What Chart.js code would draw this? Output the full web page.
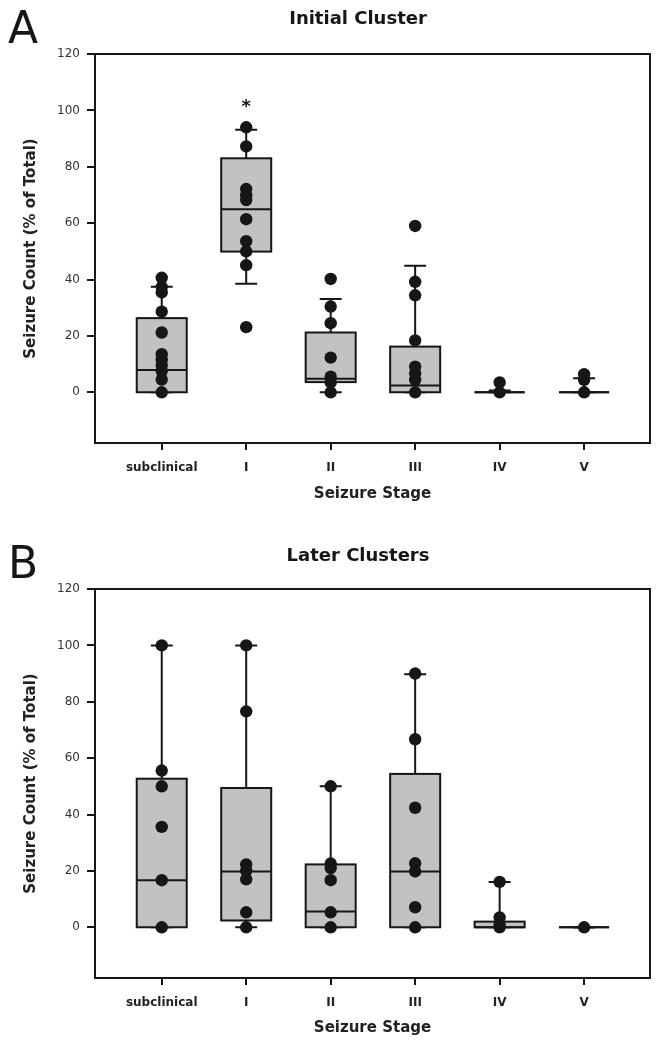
<!DOCTYPE html>
<html>
<head>
<meta charset="utf-8">
<script src="https://cdn.jsdelivr.net/npm/chart.js@4/dist/chart.umd.min.js"></script>
<style>
html, body { margin: 0; padding: 0; background: #fff; overflow: hidden; }
canvas { display: block; }
</style>
</head>
<body>
<canvas id="initial" width="661" height="535"></canvas>
<canvas id="later" width="661" height="515"></canvas>
<script>
const stages = ['subclinical', 'I', 'II', 'III', 'IV', 'V']
const yTicks = [0, 20, 40, 60, 80, 100, 120]

// panel A - initial cluster
const initialQ1 = [0, 49.9, 3.6, 0, 0, 0]
const initialMedian = [7.9, 64.9, 4.8, 2.4, 0, 0]
const initialQ3 = [26.3, 83.0, 21.2, 16.2, 0, 0]
const initialLow = [0, 38.5, 0, 0, 0, 0]
const initialHigh = [37.4, 93.1, 33.1, 44.9, 0.6, 5.0]
const initialPoints = [
	[40.6, 37.3, 35.4, 28.6, 21.2, 13.5, 11.5, 9.5, 7.5, 4.5, 0],
	[94.0, 87.2, 72.1, 69.9, 68.2, 61.4, 53.6, 50.0, 45.1, 23.1],
	[40.2, 30.4, 24.5, 12.3, 5.5, 3.5, 0],
	[59.0, 39.2, 34.4, 18.4, 9.1, 6.7, 4.4, 0],
	[3.5, 0],
	[6.4, 4.4, 0]
]
const initialStars = [{ stage: 1, value: 103 }]

// panel B - later clusters
const laterQ1 = [0, 2.4, 0, 0, 0, 0]
const laterMedian = [16.7, 19.8, 5.6, 19.8, 0, 0]
const laterQ3 = [52.7, 49.4, 22.3, 54.4, 2.0, 0]
const laterLow = [0, 0, 0, 0, 0, 0]
const laterHigh = [100, 100, 50, 89.8, 16.1, 0]
const laterPoints = [
	[100, 55.6, 50.0, 35.6, 16.7, 0],
	[100, 76.6, 22.3, 20.0, 17.0, 5.3, 0],
	[50, 22.6, 21.0, 16.7, 5.3, 0],
	[90, 66.7, 42.4, 22.7, 19.8, 7.1, 0],
	[16.1, 3.5, 1.0, 0],
	[0]
]

Chart.defaults.font.family = '"DejaVu Sans", sans-serif'

const INK = '#161616'
const BOX_HALF = 0.296
const CAP_HALF = 0.13

function boxPlugin(stats, stars, letter, title, titleY) {
	return {
		id: 'boxes',
		beforeDatasetsDraw(chart) {
			const { ctx, chartArea: a, scales: { x, y } } = chart
			ctx.save()
			ctx.lineWidth = 2
			ctx.strokeStyle = INK

			for (let i = 0; i < stats.median.length; i++) {
				const cx = x.getPixelForValue(i)
				const bl = x.getPixelForValue(i - BOX_HALF)
				const br = x.getPixelForValue(i + BOX_HALF)
				const cl = x.getPixelForValue(i - CAP_HALF)
				const cr = x.getPixelForValue(i + CAP_HALF)

				// whiskers first, the box covers them
				const segs = [[stats.q3[i], stats.high[i]], [stats.q1[i], stats.low[i]]]
				for (const [from, to] of segs) {
					ctx.beginPath()
					ctx.moveTo(cx, y.getPixelForValue(from))
					ctx.lineTo(cx, y.getPixelForValue(to))
					ctx.moveTo(cl, y.getPixelForValue(to))
					ctx.lineTo(cr, y.getPixelForValue(to))
					ctx.stroke()
				}

				const top = y.getPixelForValue(stats.q3[i])
				const bottom = y.getPixelForValue(stats.q1[i])
				ctx.fillStyle = '#c2c2c2'
				ctx.fillRect(bl, top, br - bl, bottom - top)
				ctx.strokeRect(bl, top, br - bl, bottom - top)

				const m = y.getPixelForValue(stats.median[i])
				ctx.beginPath()
				ctx.moveTo(bl, m)
				ctx.lineTo(br, m)
				ctx.stroke()
			}

			// frame round the plot
			ctx.strokeRect(a.left, a.top, a.right - a.left, a.bottom - a.top)
			ctx.restore()
		},
		afterDraw(chart) {
			const { ctx, scales: { x, y } } = chart
			ctx.save()
			ctx.fillStyle = INK
			ctx.textAlign = 'center'
			ctx.textBaseline = 'middle'
			ctx.font = 'bold 18px "DejaVu Sans"'
			for (const s of stars) {
				ctx.fillText('*', x.getPixelForValue(s.stage), y.getPixelForValue(s.value) + 5)
			}

			ctx.font = 'bold 18px "DejaVu Sans"'
			ctx.fillText(title, 358, titleY)

			ctx.textAlign = 'left'
			ctx.textBaseline = 'alphabetic'
			ctx.font = '44px "DejaVu Sans"'
			ctx.fillText(letter, 8, 43)
			ctx.restore()
		}
	}
}

function makeChart(id, height, titlePad, points, stats, stars, letter, title, titleY) {
	const data = points.flatMap((vals, i) => vals.map(v => ({ x: i, y: v })))

	return new Chart(document.getElementById(id), {
		type: 'scatter',
		data: {
			datasets: [{
				data,
				pointRadius: 6.2,
				pointHoverRadius: 6.2,
				backgroundColor: INK,
				borderColor: INK,
				borderWidth: 0
			}]
		},
		plugins: [boxPlugin(stats, stars, letter, title, titleY)],
		options: {
			responsive: false,
			animation: false,
			layout: { padding: { top: 54, right: 11, left: 0, bottom: 0 } },
			plugins: { legend: { display: false }, tooltip: { enabled: false } },
			scales: {
				x: {
					type: 'linear',
					min: -0.79,
					max: 5.78,
					afterBuildTicks: s => { s.ticks = stages.map((_, i) => ({ value: i })) },
					afterFit: s => { s.height = height - 443 },
					border: { display: false },
					grid: { drawOnChartArea: false, drawTicks: true, tickLength: 7, color: INK, lineWidth: 2 },
					ticks: {
						padding: 11,
						maxRotation: 0,
						color: '#222',
						font: { size: 12, weight: 'bold' },
						callback: v => stages[v]
					},
					title: {
						display: true,
						text: 'Seizure Stage',
						color: '#222',
						font: { size: 15, weight: 'bold' },
						padding: { top: 0, bottom: titlePad }
					}
				},
				y: {
					min: -18,
					max: 120,
					afterBuildTicks: s => { s.ticks = yTicks.map(v => ({ value: v })) },
					afterFit: s => { s.width = 95 },
					border: { display: false },
					grid: { drawOnChartArea: false, drawTicks: true, tickLength: 8, color: INK, lineWidth: 2 },
					ticks: { padding: 7, color: '#333', font: { size: 12 } },
					title: {
						display: true,
						text: 'Seizure Count (% of Total)',
						color: '#222',
						font: { size: 15, weight: 'bold' },
						padding: { top: 22, bottom: 0 }
					}
				}
			}
		}
	})
}

makeChart('initial', 535, 32, initialPoints,
	{ q1: initialQ1, median: initialMedian, q3: initialQ3, low: initialLow, high: initialHigh },
	initialStars, 'A', 'Initial Cluster', 19)

makeChart('later', 515, 13, laterPoints,
	{ q1: laterQ1, median: laterMedian, q3: laterQ3, low: laterLow, high: laterHigh },
	[], 'B', 'Later Clusters', 21)
</script>
</body>
</html>
